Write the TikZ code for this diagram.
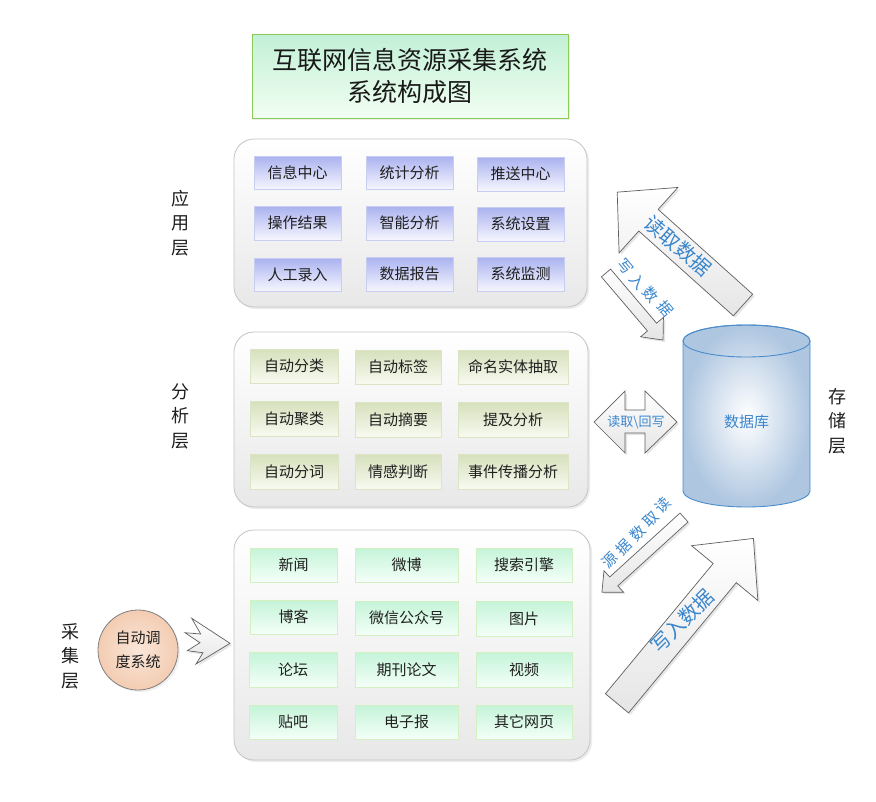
\documentclass[tikz,border=0pt]{standalone}
\usepackage{fontspec}
\setmainfont{Noto Sans CJK SC}
\usetikzlibrary{shadows}
\definecolor{panelborder}{HTML}{C4C4C4}
\definecolor{panelbot}{HTML}{E8E8E8}
\definecolor{apptop}{HTML}{AAB2EF}
\definecolor{appbot}{HTML}{F6F6FF}
\definecolor{appborder}{HTML}{C8CDF2}
\definecolor{anatop}{HTML}{D6E0BC}
\definecolor{anabot}{HTML}{F8FAF0}
\definecolor{anaborder}{HTML}{DCE4C6}
\definecolor{coltop}{HTML}{C4F4D8}
\definecolor{colbot}{HTML}{F4FFF8}
\definecolor{colborder}{HTML}{D2F0C2}
\definecolor{titletop}{HTML}{C2F0D6}
\definecolor{titlebot}{HTML}{F2FFF2}
\definecolor{titleborder}{HTML}{88CC55}
\definecolor{bluetext}{HTML}{3A86CC}
\definecolor{cylborder}{HTML}{4A8CCC}
\definecolor{cylout}{HTML}{AEC6E0}
\definecolor{arrowborder}{HTML}{606060}
\definecolor{peachin}{HTML}{FAE6D8}
\definecolor{peachout}{HTML}{F3CCB2}
\tikzset{
  panel/.style={draw=panelborder, line width=0.8pt, rounded corners=20pt, top color=white, bottom color=panelbot,
    inner sep=0pt, drop shadow={opacity=0.15, shadow xshift=2pt, shadow yshift=-2pt}},
  appbox/.style={draw=appborder, line width=0.8pt, top color=apptop, bottom color=appbot, inner sep=0pt,
    font=\fontsize{15}{18}\selectfont, text=black!88},
  anabox/.style={draw=anaborder, line width=0.8pt, top color=anatop, bottom color=anabot, inner sep=0pt,
    font=\fontsize{15}{18}\selectfont, text=black!88},
  colbox/.style={draw=colborder, line width=0.8pt, top color=coltop, bottom color=colbot, inner sep=0pt,
    font=\fontsize{15}{18}\selectfont, text=black!88},
  layerlabel/.style={font=\fontsize{18}{24.5}\selectfont, align=center, text=black!88},
  blockarr/.style={draw=arrowborder, line width=0.7pt, top color=white, bottom color=black!10,
    drop shadow={opacity=0.2, shadow xshift=2pt, shadow yshift=-2pt}},
  arrtxt/.style={text=bluetext, inner sep=0pt},
}
% style, name, x1, y1, x2, y2, text
\newcommand\boxat[7]{\node[#1, minimum width={#5-#3}, minimum height={#6-#4}] (#2) at ({(#3+#5)/2},{(#4+#6)/2}) {#7};}
% style, tailx, taily, angle, length, shaft half width, head half width, head length
\newcommand\blockarrow[8]{\draw[#1, shift={(#2,#3)}, rotate=#4] (0,#6) -- ({#5-#8},#6) -- ({#5-#8},#7) -- (#5,0) -- ({#5-#8},-#7) -- ({#5-#8},-#6) -- (0,-#6) -- cycle;}
\begin{document}
\begin{tikzpicture}[x=1pt,y=-1pt]
\useasboundingbox[fill=white] (0,0) rectangle (876,801);

% title
\node[draw=titleborder, line width=0.9pt, top color=titletop, bottom color=titlebot, minimum width=316pt, minimum height=84pt,
  font=\fontsize{25}{32}\selectfont, align=center, text=black!90,
  drop shadow={opacity=0.12, shadow xshift=2pt, shadow yshift=-2pt}] (title) at (410,76) {互联网信息资源采集系统\\系统构成图};

% panels
\boxat{panel}{apppanel}{234}{139}{587}{307}{}
\boxat{panel}{anapanel}{234}{332}{588}{507}{}
\boxat{panel}{colpanel}{234}{530}{590}{760}{}

% application layer
\boxat{appbox}{a11}{254}{156}{341}{189}{信息中心}
\boxat{appbox}{a12}{366}{156}{453}{189}{统计分析}
\boxat{appbox}{a13}{477}{157}{564}{191}{推送中心}
\boxat{appbox}{a21}{254}{206}{341}{240}{操作结果}
\boxat{appbox}{a22}{366}{206}{453}{240}{智能分析}
\boxat{appbox}{a23}{477}{207}{564}{241}{系统设置}
\boxat{appbox}{a31}{254}{258}{341}{291}{人工录入}
\boxat{appbox}{a32}{366}{257}{453}{291}{数据报告}
\boxat{appbox}{a33}{477}{257}{564}{291}{系统监测}

% analysis layer
\boxat{anabox}{b11}{250}{349}{338}{383}{自动分类}
\boxat{anabox}{b12}{355}{350}{441}{384}{自动标签}
\boxat{anabox}{b13}{458}{350}{568}{384}{命名实体抽取}
\boxat{anabox}{b21}{250}{401}{338}{436}{自动聚类}
\boxat{anabox}{b22}{355}{402}{441}{437}{自动摘要}
\boxat{anabox}{b23}{458}{402}{568}{437}{提及分析}
\boxat{anabox}{b31}{250}{454}{338}{489}{自动分词}
\boxat{anabox}{b32}{355}{454}{441}{489}{情感判断}
\boxat{anabox}{b33}{458}{454}{568}{489}{事件传播分析}

% collection layer
\boxat{colbox}{c11}{250}{548}{337}{582}{新闻}
\boxat{colbox}{c12}{355}{548}{458}{582}{微博}
\boxat{colbox}{c13}{476}{548}{572}{582}{搜索引擎}
\boxat{colbox}{c21}{250}{600}{337}{634}{博客}
\boxat{colbox}{c22}{355}{601}{458}{635}{微信公众号}
\boxat{colbox}{c23}{476}{601}{572}{636}{图片}
\boxat{colbox}{c31}{249}{652}{337}{687}{论坛}
\boxat{colbox}{c32}{355}{652}{458}{687}{期刊论文}
\boxat{colbox}{c33}{476}{652}{572}{687}{视频}
\boxat{colbox}{c41}{249}{705}{337}{739}{贴吧}
\boxat{colbox}{c42}{355}{705}{458}{739}{电子报}
\boxat{colbox}{c43}{476}{705}{572}{739}{其它网页}

% layer labels
\node[layerlabel] (lapp) at (180,223) {应\\用\\层};
\node[layerlabel] (lana) at (180,416) {分\\析\\层};
\node[layerlabel] (lcol) at (70,656) {采\\集\\层};
\node[layerlabel] (lsto) at (837,421) {存\\储\\层};

% scheduler circle
\node[circle, draw=black!50, line width=0.8pt, inner color=peachin, outer color=peachout, minimum size=80pt,
  font=\fontsize{15}{24}\selectfont, align=center, text=black!88,
  drop shadow={opacity=0.12, shadow xshift=2pt, shadow yshift=-2pt}] (sched) at (138,650) {自动调\\度系统};

% jagged arrow
\draw[blockarr] (191.7,618.3) -- (230,643.3) -- (196,664) -- (203,652.7) -- (187.3,650.7) -- (200,642.7)
  -- (185,632.7) -- (200.7,634) -- cycle;

% database cylinder
\path[draw=cylborder, line width=0.9pt, inner color=white, outer color=cylout]
  (683,341) -- (683,491) arc[start angle=180, end angle=360, x radius=63.5pt, y radius=16pt]
  -- (810,341) arc[start angle=0, end angle=180, x radius=63.5pt, y radius=16pt] -- cycle;
\draw[cylborder, line width=0.9pt] (746.5,341) ellipse[x radius=63.5pt, y radius=16pt];
\node[text=bluetext, font=\fontsize{15}{18}\selectfont] (db) at (746.5,422) {数据库};

% big arrow: read data (up-left)
\blockarrow{blockarr}{743}{305}{138.1}{169}{14.5}{44}{42}
\node[arrtxt, rotate=-41, font=\fontsize{20}{22}\selectfont] (trd) at (678,246) {读取数据};

% small arrow: write data (down-right)
\blockarrow{blockarr}{606}{273}{-49.6}{88}{6}{15}{17}
\foreach \ch/\px/\py [count=\i] in {写/625/267, 入/638/282, 数/651/295, 据/666/309}
  \node[arrtxt, rotate=-50, font=\fontsize{15}{18}\selectfont] (tw\i) at (\px,\py) {\ch};

% double arrow: read/write back
\draw[blockarr] (594,422) -- (625,391) -- (625,410) -- (645,410) -- (645,391) -- (677,422) -- (645,453)
  -- (645,433) -- (625,433) -- (625,453) -- cycle;
\node[arrtxt, font=\fontsize{13}{15}\selectfont] (trw) at (636,422) {读取\textbackslash 回写};

% small arrow: read data source (down-left)
\blockarrow{blockarr}{684}{517.5}{-137.7}{111}{6}{14.5}{16}
\foreach \ch/\px/\py [count=\i] in {读/663/505, 取/651/519, 数/638/533, 据/624/547, 源/610/560}
  \node[arrtxt, rotate=45, font=\fontsize{15}{18}\selectfont] (ts\i) at (\px,\py) {\ch};

% big arrow: write data (up-right)
\blockarrow{blockarr}{617}{703.3}{50.4}{214}{15}{43}{45}
\node[arrtxt, rotate=45, font=\fontsize{20}{22}\selectfont] (tbw) at (682,621) {写入数据};

\end{tikzpicture}
\end{document}
